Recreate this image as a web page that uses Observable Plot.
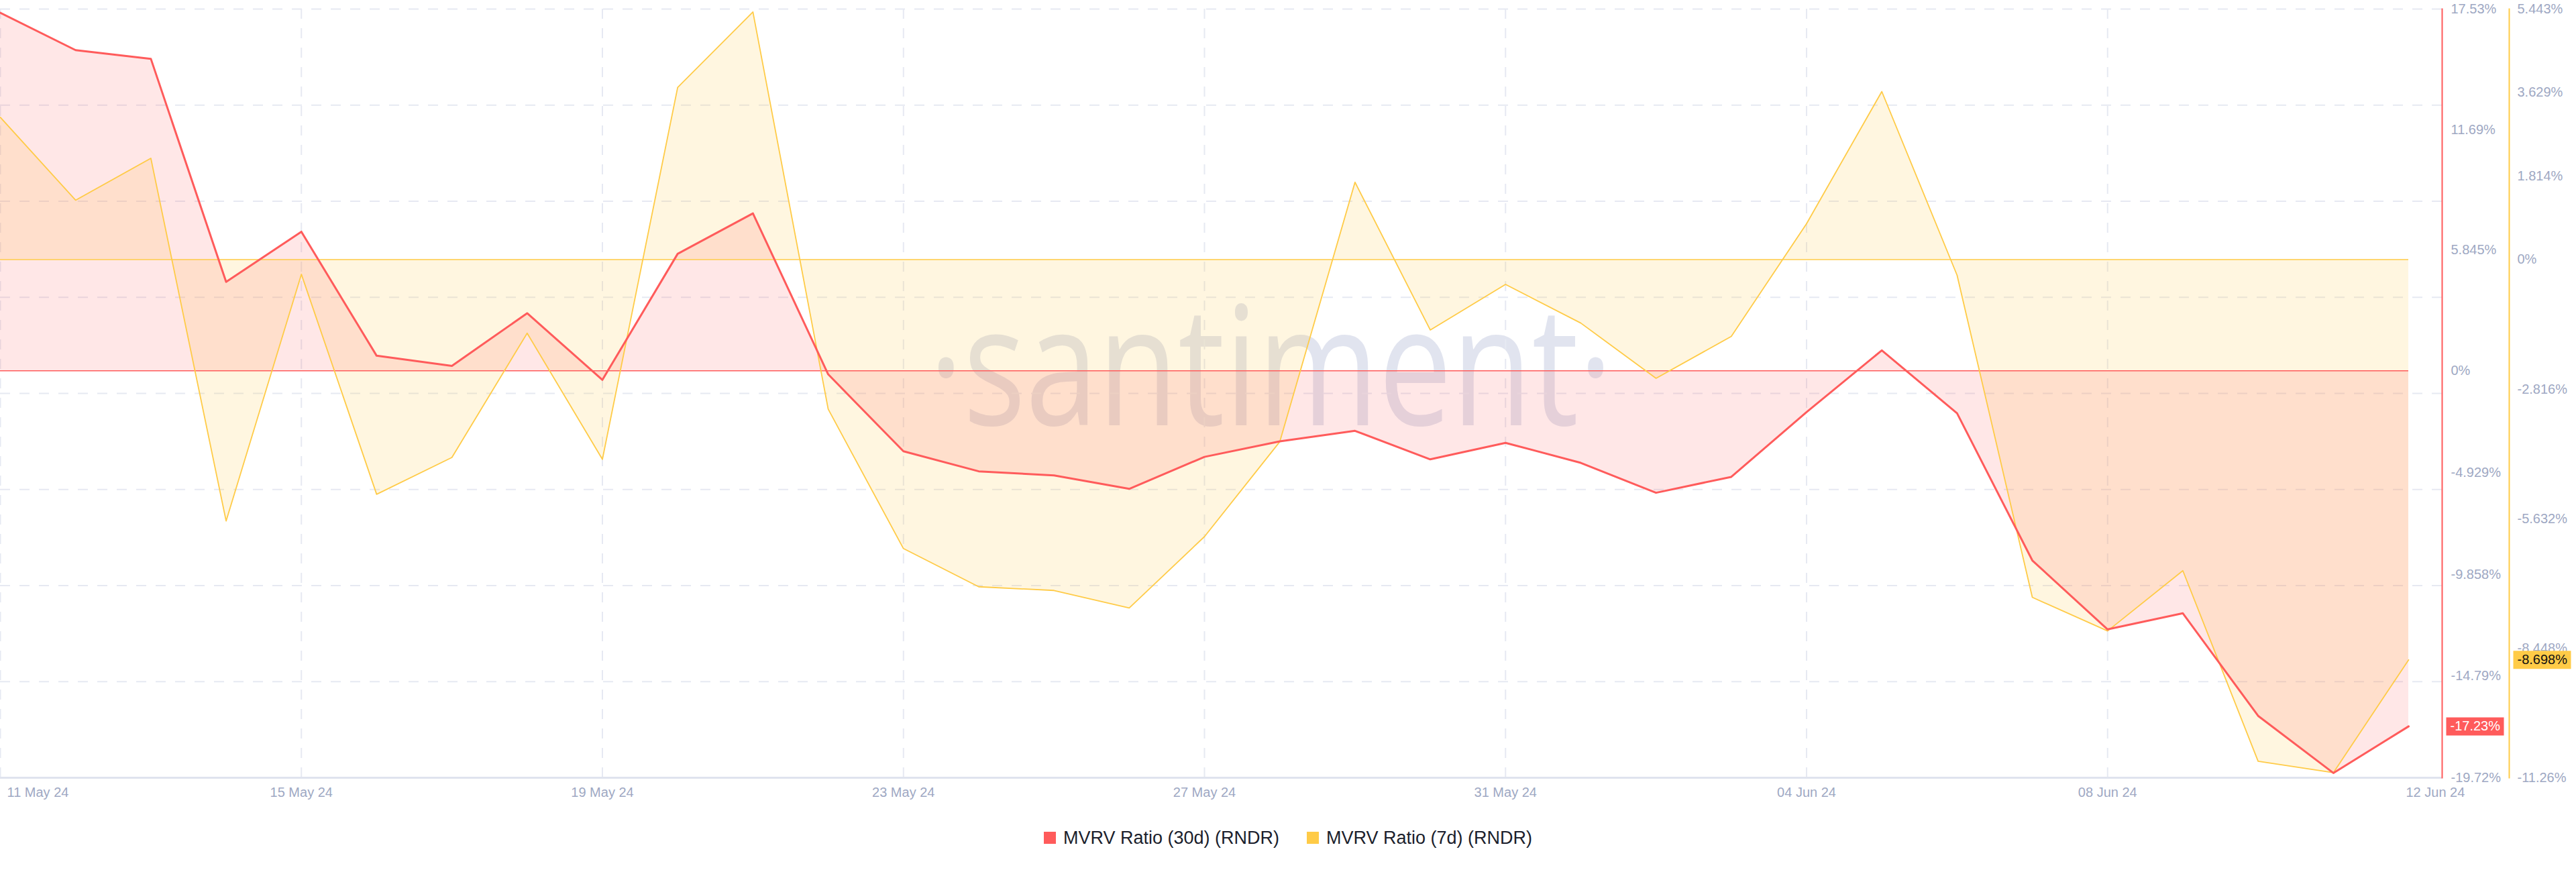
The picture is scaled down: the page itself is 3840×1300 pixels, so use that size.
<!DOCTYPE html>
<html>
<head>
<meta charset="utf-8">
<script src="https://cdn.jsdelivr.net/npm/d3@7"></script>
<script src="https://cdn.jsdelivr.net/npm/@observablehq/plot@0.6"></script>
<style>
  html, body { margin: 0; padding: 0; background: #ffffff; }
  #chart { width: 3840px; }
  .legend { display: flex; justify-content: center; align-items: center; height: 38px;
    font-family: "Liberation Sans", Arial, sans-serif; font-size: 27px; color: #1b1e2c; gap: 41px; }
  .legend .item { display: flex; align-items: center; gap: 11px; }
  .legend .sw { width: 18px; height: 18px; display: inline-block; }
</style>
</head>
<body>
<div id="chart"></div>
<div class="legend" id="legend"></div>
<script>
// ---------- data ----------
const dates = [
  "2024-05-11","2024-05-12","2024-05-13","2024-05-14","2024-05-15","2024-05-16","2024-05-17",
  "2024-05-18","2024-05-19","2024-05-20","2024-05-21","2024-05-22","2024-05-23","2024-05-24",
  "2024-05-25","2024-05-26","2024-05-27","2024-05-28","2024-05-29","2024-05-30","2024-05-31",
  "2024-06-01","2024-06-02","2024-06-03","2024-06-04","2024-06-05","2024-06-06","2024-06-07",
  "2024-06-08","2024-06-09","2024-06-10","2024-06-11","2024-06-12"
];
const mvrv30d = [
  17.35, 15.54, 15.12, 4.31, 6.74, 0.73, 0.24, 2.79, -0.44, 5.67, 7.63, -0.17, -3.90, -4.87,
  -5.07, -5.72, -4.17, -3.42, -2.91, -4.29, -3.49, -4.46, -5.91, -5.14, -2.00, 0.99, -2.06,
  -9.19, -12.53, -11.75, -16.72, -19.49, -17.23
];
const mvrv7d = [
  3.09, 1.29, 2.20, -5.68, -0.32, -5.10, -4.30, -1.60, -4.34, 3.74, 5.38, -3.25, -6.28, -7.11,
  -7.19, -7.57, -6.02, -3.96, 1.68, -1.53, -0.54, -1.38, -2.58, -1.67, 0.78, 3.65, -0.34,
  -7.34, -8.07, -6.76, -10.90, -11.15, -8.698
];
const seriesNames = ["MVRV Ratio (30d) (RNDR)", "MVRV Ratio (7d) (RNDR)"];
const seriesColors = ["#ff5b5b", "#ffcb47"];
const redTicks = [17.53, 11.69, 5.845, 0, -4.929, -9.858, -14.79, -19.72];
const redTickLabels = ["17.53%", "11.69%", "5.845%", "0%", "-4.929%", "-9.858%", "-14.79%", "-19.72%"];
const yellowTicks = [5.443, 3.629, 1.814, 0, -2.816, -5.632, -8.448, -11.26];
const yellowTickLabels = ["5.443%", "3.629%", "1.814%", "0%", "-2.816%", "-5.632%", "-8.448%", "-11.26%"];
const xTickDates = ["2024-05-11","2024-05-15","2024-05-19","2024-05-23","2024-05-27","2024-05-31","2024-06-04","2024-06-08","2024-06-12"];
const lastLabels = ["-17.23%", "-8.698%"];
const watermark = "·santiment·";

// ---------- helpers ----------
const parse = d3.utcParse("%Y-%m-%d");
const fmt = d3.utcFormat("%d %b %y");
const redDomain = [-19.72, 17.53];
const yellowDomain = [-11.26, 5.443];
// map a 7d value onto the 30d axis space (both axes share the plot height)
const toRed = (v) => redDomain[0] + (v - yellowDomain[0]) / (yellowDomain[1] - yellowDomain[0]) * (redDomain[1] - redDomain[0]);

const data = dates.map((d, i) => ({date: parse(d), r: mvrv30d[i], y: toRed(mvrv7d[i])}));
const xTicks = xTickDates.map(parse);
const gridDates = xTicks.slice(0, -1);
const gridY = d3.range(9).map(i => redDomain[0] + i * (redDomain[1] - redDomain[0]) / 8);
const yellowTicksR = yellowTicks.map(toRed);
const redFmt = new Map(redTicks.map((t, i) => [t, redTickLabels[i]]));
const yelFmt = new Map(yellowTicksR.map((t, i) => [t, yellowTickLabels[i]]));

const RED = seriesColors[0], YEL = seriesColors[1];
const GRID = "#e6e9f2", LABEL = "#9ea8c3";
const badgeSymbol = { draw(ctx) { ctx.rect(-43, -13.5, 86, 27); } };

const badges = [
  {v: mvrv30d[mvrv30d.length - 1], label: lastLabels[0]},
  {v: toRed(mvrv7d[mvrv7d.length - 1]), label: lastLabels[1]}
];

const chart = Plot.plot({
  width: 3840,
  height: 1230,
  marginLeft: 0,
  marginRight: 200,
  marginTop: 13,
  marginBottom: 71,
  style: {fontFamily: '"Liberation Sans", Arial, sans-serif', fontSize: "20px", color: LABEL, background: "#ffffff", overflow: "visible"},
  x: {type: "utc", domain: [data[0].date, data[data.length - 1].date], range: [0, 3590]},
  y: {domain: redDomain},
  marks: [
    Plot.text([watermark], {text: d => d, frameAnchor: "middle", dx: 74, dy: -32, fontSize: 248,
      fontFamily: '"Open Sans", sans-serif', fill: "#e1e4ef"}),
    Plot.ruleY(gridY, {stroke: GRID, strokeWidth: 2, strokeDasharray: "15,14"}),
    Plot.ruleX(gridDates, {stroke: GRID, strokeWidth: 2, strokeDasharray: "15,14"}),
    Plot.areaY(data, {x: "date", y1: toRed(0), y2: "y", fill: YEL, fillOpacity: 0.17}),
    Plot.areaY(data, {x: "date", y1: 0, y2: "r", fill: RED, fillOpacity: 0.15}),
    Plot.ruleY([toRed(0)], {x1: data[0].date, x2: data[data.length - 1].date, stroke: YEL, strokeWidth: 1.5}),
    Plot.ruleY([0], {x1: data[0].date, x2: data[data.length - 1].date, stroke: RED, strokeWidth: 1.5}),
    Plot.lineY(data, {x: "date", y: "y", stroke: YEL, strokeWidth: 1.8}),
    Plot.lineY(data, {x: "date", y: "r", stroke: RED, strokeWidth: 3}),
    Plot.ruleY([redDomain[0]], {stroke: "#dfe3ee", strokeWidth: 3}),
    Plot.frame({anchor: "right", stroke: RED, strokeWidth: 2}),
    Plot.frame({anchor: "right", stroke: YEL, strokeWidth: 2, dx: 100}),
    Plot.axisY({anchor: "right", ticks: redTicks, tickFormat: d => redFmt.get(d), tickSize: 0, tickPadding: 13, fill: LABEL, fontSize: 20}),
    Plot.axisY({anchor: "right", ticks: yellowTicksR, tickFormat: d => yelFmt.get(d), tickSize: 0, tickPadding: 12, dx: 100, fill: LABEL, fontSize: 20}),
    Plot.axisX({anchor: "bottom", ticks: xTicks.slice(1, -1), tickFormat: fmt, tickSize: 0, tickPadding: 14, fill: LABEL, fontSize: 20}),
    Plot.axisX({anchor: "bottom", ticks: [xTicks[0]], tickFormat: fmt, tickSize: 0, tickPadding: 14, textAnchor: "start", dx: 10, fill: LABEL, fontSize: 20}),
    Plot.axisX({anchor: "bottom", ticks: [xTicks[xTicks.length - 1]], tickFormat: fmt, tickSize: 0, tickPadding: 14, textAnchor: "start", dx: -4, fill: LABEL, fontSize: 20}),
    Plot.dot([badges[0]], {y: "v", frameAnchor: "right", dx: 49, symbol: badgeSymbol, fill: RED, stroke: null}),
    Plot.text([badges[0]], {y: "v", text: "label", frameAnchor: "right", textAnchor: "start", dx: 12, fill: "#ffffff", fontSize: 20}),
    Plot.dot([badges[1]], {y: "v", frameAnchor: "right", dx: 149, symbol: badgeSymbol, fill: YEL, stroke: null}),
    Plot.text([badges[1]], {y: "v", text: "label", frameAnchor: "right", textAnchor: "start", dx: 112, fill: "#111111", fontSize: 20})
  ]
});
document.getElementById("chart").appendChild(chart);

// condense the watermark horizontally (scale about its anchor point)
chart.querySelectorAll("text").forEach(el => {
  if (el.textContent === watermark) {
    const t = el.getAttribute("transform") || "";
    el.setAttribute("transform", t + " scale(0.785,1)");
  }
});

// legend
const legend = document.getElementById("legend");
seriesNames.forEach((name, i) => {
  const item = document.createElement("div");
  item.className = "item";
  const sw = document.createElement("span");
  sw.className = "sw";
  sw.style.background = seriesColors[i];
  const label = document.createElement("span");
  label.textContent = name;
  item.appendChild(sw);
  item.appendChild(label);
  legend.appendChild(item);
});
</script>
</body>
</html>
